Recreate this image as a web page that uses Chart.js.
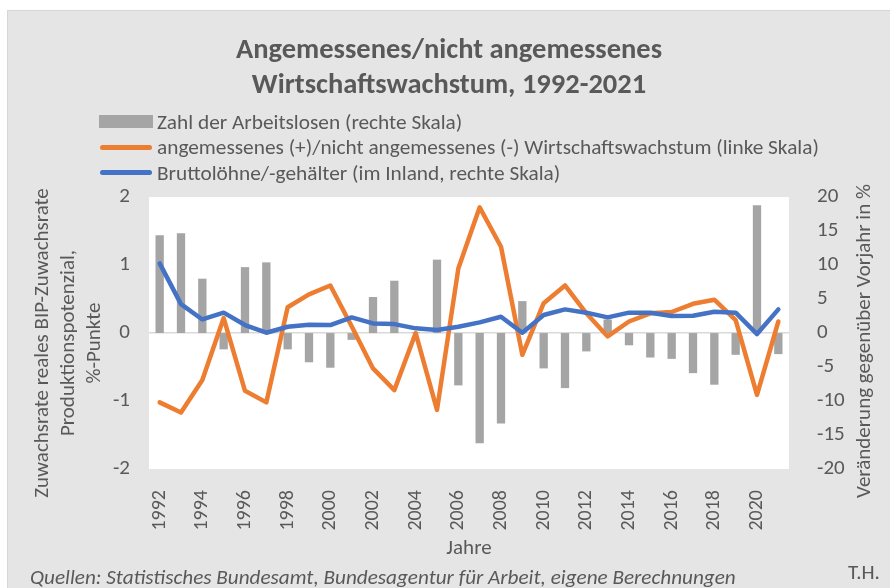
<!DOCTYPE html>
<html lang="de">
<head>
<meta charset="utf-8">
<title>Angemessenes/nicht angemessenes Wirtschaftswachstum, 1992-2021</title>
<script src="https://cdn.jsdelivr.net/npm/chart.js@4.4.1/dist/chart.umd.min.js"></script>
<style>
  html, body { margin:0; padding:0; background:#fff; }
  body { width:890px; height:588px; position:relative; overflow:hidden;
         font-family: Carlito, Lato, sans-serif; color:#595959; }
  #frame { position:absolute; left:7px; top:10px; width:883px; height:578px; box-sizing:border-box;
           background:#e5e5e5; border-top:1px solid #d6d6d6; border-left:1px solid #d6d6d6; }
  #wrap { position:absolute; left:0; top:0; width:882px; height:577px; }
  #legend { position:absolute; left:99px; top:109px; font-size:21.3px; }
  #legend .row { display:flex; align-items:center; height:25.5px; white-space:nowrap; }
  #legend .sym { width:54px; height:13px; margin-right:4px; position:relative; flex:none; }
  #legend .sym.line::after { content:''; position:absolute; left:1px; right:1px; top:4px; height:5px; border-radius:3px; background:var(--c); }
  #legend .sym.box { background:var(--c); }
  #src { position:absolute; left:30px; top:564px; font-size:21.2px; font-style:italic; white-space:nowrap; line-height:26px; }
  #th { position:absolute; left:848px; top:559px; font-size:21px; line-height:26px; }
</style>
</head>
<body>
<div id="frame"><div id="wrap"><canvas id="chart"></canvas></div></div>
<div id="legend"></div>
<div id="src">Quellen: Statistisches Bundesamt, Bundesagentur für Arbeit, eigene Berechnungen</div>
<div id="th">T.H.</div>
<script>
const years = ['1992','1993','1994','1995','1996','1997','1998','1999','2000','2001',
  '2002','2003','2004','2005','2006','2007','2008','2009','2010','2011',
  '2012','2013','2014','2015','2016','2017','2018','2019','2020','2021'];

// Zahl der Arbeitslosen, Veränderung in % (rechte Skala)
const unemployed = [14.4, 14.7, 8.0, -2.4, 9.7, 10.4, -2.4, -4.3, -5.1, -1.0,
  5.3, 7.7, 0.1, 10.8, -7.7, -16.2, -13.3, 4.7, -5.2, -8.1,
  -2.7, 2.0, -1.8, -3.6, -3.8, -5.9, -7.6, -3.2, 18.8, -3.1];

// angemessenes/nicht angemessenes Wachstum, %-Punkte (linke Skala)
const growthGap = [-1.02, -1.17, -0.69, 0.22, -0.85, -1.02, 0.38, 0.57, 0.70, 0.10,
  -0.52, -0.84, 0.0, -1.13, 0.95, 1.85, 1.27, -0.32, 0.44, 0.70,
  0.29, -0.05, 0.17, 0.29, 0.31, 0.43, 0.49, 0.19, -0.91, 0.17];

// Bruttolöhne/-gehälter, Veränderung in % (rechte Skala)
const wages = [10.25, 4.26, 2.0, 3.0, 1.18, 0.05, 0.93, 1.22, 1.18, 2.3,
  1.42, 1.32, 0.69, 0.44, 0.93, 1.57, 2.4, 0.05, 2.65, 3.48,
  3.0, 2.3, 3.0, 3.0, 2.5, 2.55, 3.14, 3.0, -0.15, 3.48];

const leftTicks = [-2, -1, 0, 1, 2];
const rightTicks = [-20, -15, -10, -5, 0, 5, 10, 15, 20];

const leftTitle = ['Zuwachsrate reales BIP-Zuwachsrate', 'Produktionspotenzial,', '%-Punkte'];
const rightTitleText = 'Veränderung gegenüber Vorjahr in %';

const C = {
  txt:    '#595959',
  bar:    '#a5a5a5',
  orange: '#ed7d31',
  blue:   '#4472c4',
  zero:   '#d9d9d9',
};
const FONT = 'Carlito, Lato, sans-serif';

// white plot area; both axis titles read bottom-to-top and sit a bit
// below the plot centre, so they are drawn here rather than by the scales
const plotDeco = {
  id: 'plotDeco',
  beforeDraw(chart) {
    const { ctx, chartArea: a } = chart;
    ctx.save();
    ctx.fillStyle = '#fff';
    ctx.fillRect(a.left, a.top, a.right - a.left, a.bottom - a.top);
    ctx.restore();
  },
  afterDraw(chart) {
    const ctx = chart.ctx;
    const put = (lines, x, y, step) => {
      ctx.save();
      ctx.translate(x, y);
      ctx.rotate(-Math.PI / 2);
      ctx.font = '21px ' + FONT;
      ctx.fillStyle = C.txt;
      ctx.textAlign = 'center';
      ctx.textBaseline = 'middle';
      lines.forEach((t, i) => ctx.fillText(t, 0, i * step));
      ctx.restore();
    };
    put(leftTitle, 35, 332, 26);
    put([rightTitleText], 857, 330, 0);
  },
};

const chart = new Chart(document.getElementById('chart'), {
  data: {
    labels: years,
    datasets: [
      { type:'bar', label:'Zahl der Arbeitslosen (rechte Skala)', data:unemployed, yAxisID:'y1',
        backgroundColor:C.bar, barPercentage:0.39, categoryPercentage:1, order:2 },
      { type:'line', label:'angemessenes (+)/nicht angemessenes (-) Wirtschaftswachstum (linke Skala)',
        data:growthGap, yAxisID:'y', borderColor:C.orange, borderWidth:4.5, pointRadius:0,
        tension:0, borderJoinStyle:'round', borderCapStyle:'round', order:1 },
      { type:'line', label:'Bruttolöhne/-gehälter (im Inland, rechte Skala)',
        data:wages, yAxisID:'y1', borderColor:C.blue, borderWidth:4.5, pointRadius:0,
        tension:0, borderJoinStyle:'round', borderCapStyle:'round', order:0 },
    ],
  },
  options: {
    responsive:true, maintainAspectRatio:false, animation:false,
    layout: { padding:0 },
    plugins: {
      legend: { display:false },
      tooltip: { enabled:false },
      title: {
        display:true, text:['Angemessenes/nicht angemessenes', 'Wirtschaftswachstum, 1992-2021'],
        color:C.txt, font:{ size:28.5, weight:'bold', family:FONT, lineHeight:1.23 },
        padding:{ top:22, bottom:94 },
      },
    },
    scales: {
      x: {
        offset:true,
        grid: { display:false },
        border: { display:false },
        ticks: {
          autoSkip:false, maxRotation:90, minRotation:90, padding:13,
          color:C.txt, font:{ size:20, family:FONT },
          callback: (v, i) => i % 2 === 0 ? years[i] : '',
        },
        title: { display:true, text:'Jahre', color:C.txt, font:{ size:21, family:FONT }, padding:{ top:0, bottom:27 } },
        afterFit: s => { s.height = 119; },
      },
      y: {
        position:'left', min:-2, max:2,
        afterBuildTicks: s => { s.ticks = leftTicks.map(v => ({ value:v })); },
        grid: { drawTicks:false, lineWidth:1.5, color: c => c.tick.value === 0 ? C.zero : 'transparent' },
        border: { display:false },
        ticks: { padding:19, color:C.txt, font:{ size:21, family:FONT } },
        afterFit: s => { s.width = 141; },
      },
      y1: {
        position:'right', min:-20, max:20,
        afterBuildTicks: s => { s.ticks = rightTicks.map(v => ({ value:v })); },
        grid: { display:false },
        border: { display:false },
        ticks: { padding:20, color:C.txt, font:{ size:21, family:FONT } },
        afterFit: s => { s.width = 101; },
      },
    },
  },
  plugins: [plotDeco],
});

// legend, stacked one item per row like the original
const legend = document.getElementById('legend');
chart.data.datasets.forEach(ds => {
  const row = document.createElement('div');
  row.className = 'row';
  const sym = document.createElement('span');
  sym.className = 'sym ' + (ds.type === 'bar' ? 'box' : 'line');
  sym.style.setProperty('--c', ds.type === 'bar' ? ds.backgroundColor : ds.borderColor);
  const txt = document.createElement('span');
  txt.textContent = ds.label;
  row.append(sym, txt);
  legend.append(row);
});
</script>
</body>
</html>
